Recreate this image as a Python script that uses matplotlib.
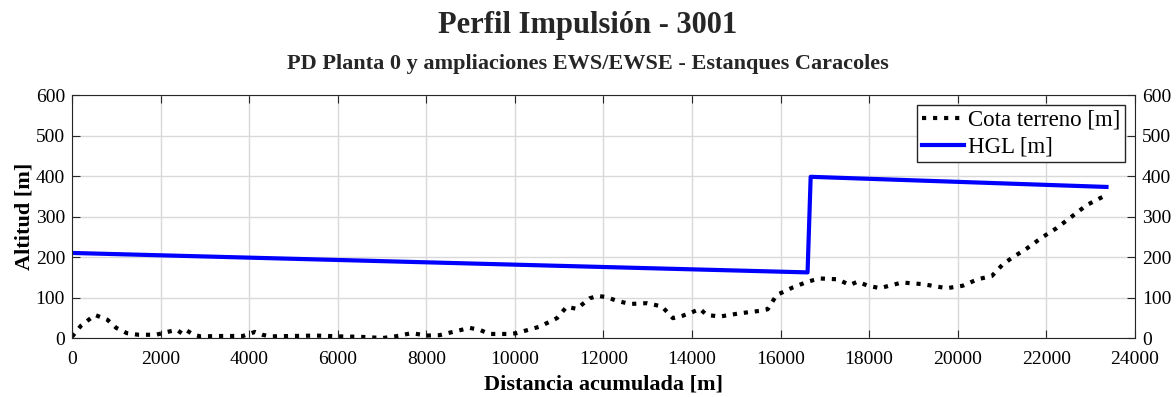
import matplotlib.pyplot as plt

plt.rcParams['font.family'] = ['Liberation Serif', 'DejaVu Serif']

# Perfil del terreno (distancia [m], cota [m])
dist_terreno = [0, 200, 520, 800, 1000, 1240, 1500, 1900, 2150, 2370, 2500, 2600, 2750,
                2900, 3400, 3860, 4130, 4300, 4470, 5000, 5500, 6050, 6500, 7020, 7300,
                7670, 8010, 8300, 8600, 8980, 9210, 9430, 9890, 10040, 10560, 10950, 11170,
                11400, 11690, 11870, 12070, 12300, 12600, 12980, 13320, 13570, 13790,
                13990, 14180, 14330, 14630, 15080, 15530, 15710, 15910, 16280, 16610,
                16880, 17290, 17560, 17740, 17950, 18240, 18740, 19210, 19750, 20110,
                20450, 20770, 21020, 21240, 21560, 21900, 22230, 22530, 22910, 23210, 23360]
cota_terreno = [3, 30, 57, 45, 25, 12, 8, 8, 15, 20, 10, 18, 8,
                4, 5, 5, 15, 8, 4, 5, 6, 4, 3, 0, 4,
                12, 6, 7, 15, 25, 20, 10, 10, 12, 28, 49, 77,
                72, 98, 104, 101, 92, 84, 86, 78, 49, 55,
                63, 72, 57, 53, 61, 67, 71, 106, 125, 139,
                147, 145, 131, 139, 130, 123, 137, 133, 123, 129,
                145, 153, 182, 199, 221, 248, 271, 296, 328, 345, 353]

# Línea de gradiente hidráulico
dist_hgl = [0, 16610, 16680, 23360]
cota_hgl = [210, 162, 398, 373]

fig = plt.figure(figsize=(11.76, 3.97), dpi=100)
ax = fig.add_axes([0.0612, 0.1486, 0.9038, 0.6121])

ax.plot(dist_terreno, cota_terreno, color='black', linestyle=':', linewidth=3,
        label='Cota terreno [m]')
ax.plot(dist_hgl, cota_hgl, color='blue', linewidth=3, label='HGL [m]')

ax.set_xlim(0, 24000)
ax.set_ylim(0, 600)
ax.set_xticks(range(0, 24001, 2000))
ax.set_yticks(range(0, 601, 100))
ax.grid(True, color='#d9d9d9', linewidth=1)
ax.set_axisbelow(True)
ax.tick_params(direction='in', length=6, labelsize=14, top=True, right=True,
               labelright=True, color='#262626')
ax.tick_params(axis='x', pad=9)
ax.tick_params(axis='y', pad=5)
for s in ax.spines.values():
    s.set_color('#262626')

ax.set_xlabel('Distancia acumulada [m]', fontsize=16, fontweight='bold', labelpad=5)
ax.set_ylabel('Altitud [m]', fontsize=16, fontweight='bold', labelpad=1)

leg = ax.legend(loc='upper right', fontsize=16.5, fancybox=False, framealpha=1,
                edgecolor='#262626', borderpad=0.2, handlelength=1.85,
                handletextpad=0.15, labelspacing=0.25, borderaxespad=0.45)
leg.get_frame().set_linewidth(1)

fig.text(0.5, 0.937, 'Perfil Impulsión - 3001', ha='center', va='center',
         fontsize=22, fontweight='bold', color='#262626')
fig.text(0.5, 0.839, 'PD Planta 0 y ampliaciones EWS/EWSE - Estanques Caracoles',
         ha='center', va='center', fontsize=16, fontweight='bold', color='#262626')

fig.savefig('out.png', dpi=100)
